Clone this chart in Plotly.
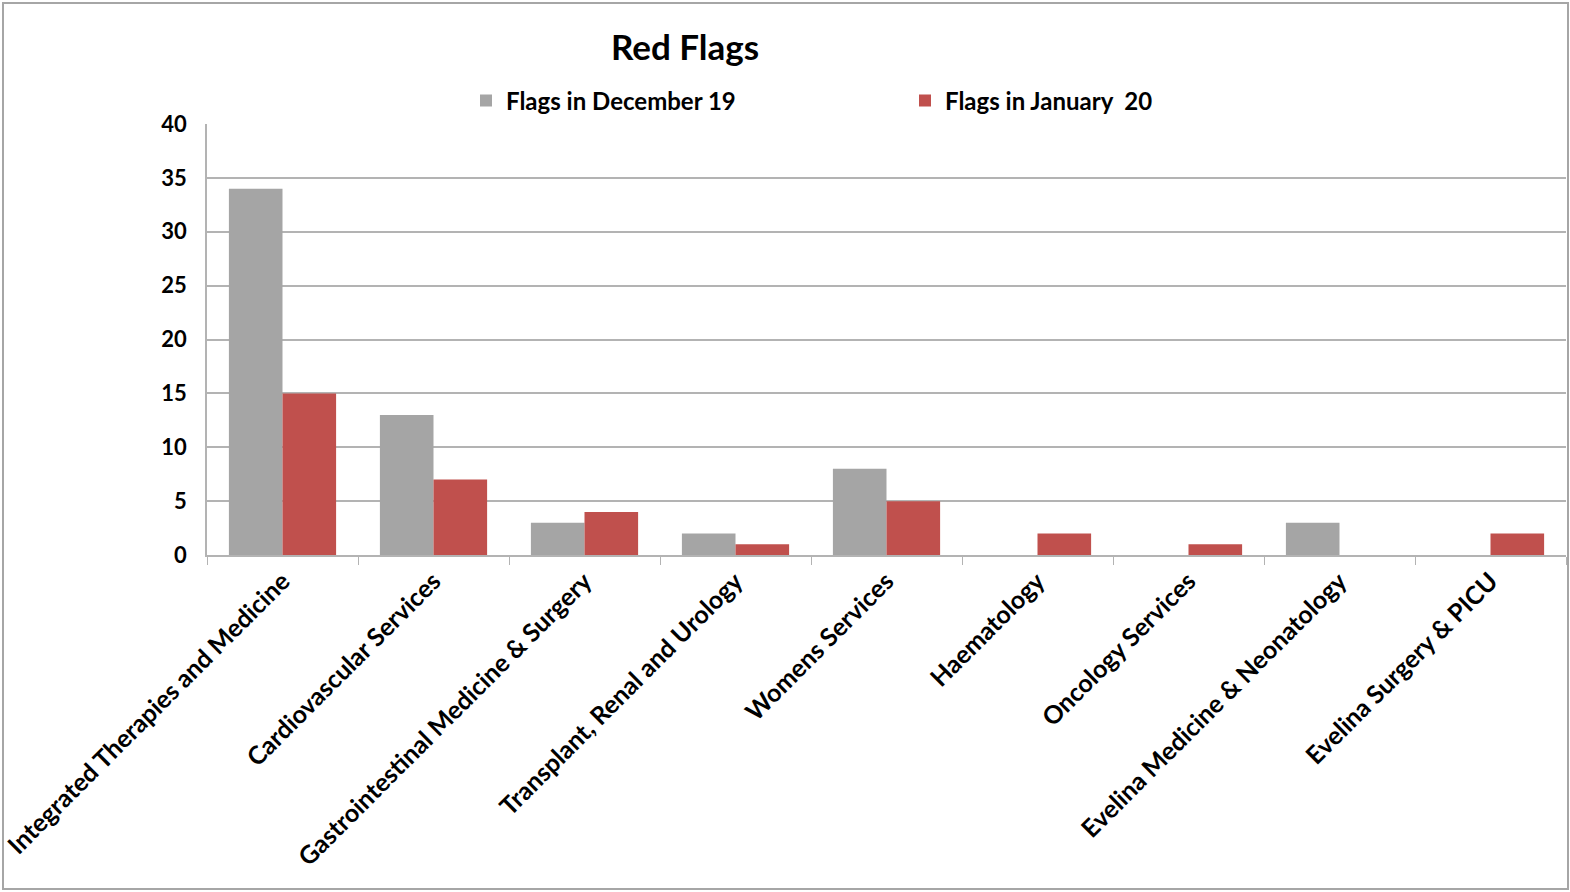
import plotly.graph_objects as go

categories = ["Integrated Therapies and Medicine", "Cardiovascular Services",
              "Gastrointestinal Medicine & Surgery", "Transplant, Renal and Urology",
              "Womens Services", "Haematology", "Oncology Services",
              "Evelina Medicine & Neonatology", "Evelina Surgery & PICU"]
dec19 = [34, 13, 3, 2, 8, 0, 0, 3, 0]
jan20 = [15, 7, 4, 1, 5, 2, 1, 0, 2]
y_ticks = [0, 5, 10, 15, 20, 25, 30, 35, 40]

FONT = "Lato, Liberation Sans, sans-serif"
W, H = 1570, 892
L, R, T, B = 207, 4, 124, 337
pw, ph = W - L - R, H - T - B

fig = go.Figure()
fig.add_bar(x=categories, y=dec19, name="Flags in December 19", marker_color="#A5A5A5",
            marker_line_width=0)
fig.add_bar(x=categories, y=jan20, name="Flags in January  20", marker_color="#C0504D",
            marker_line_width=0)

def px_x(p):
    return (p - L) / pw

def px_y(p):
    return (H - B - p) / ph

fig.update_layout(
    width=W, height=H,
    margin=dict(l=L, r=R, t=T, b=B, autoexpand=False),
    paper_bgcolor="white", plot_bgcolor="white",
    barmode="group", bargap=0.29, bargroupgap=0,
    font=dict(family=FONT, color="black", size=18, weight="bold"),
    title=dict(text="Red Flags", xref="paper", x=px_x(685), xanchor="center",
               yref="container", y=1 - 48 / H, yanchor="middle",
               font=dict(size=35, family=FONT, weight="bold")),
    legend=dict(orientation="h", x=px_x(466), xanchor="left", y=px_y(101), yanchor="middle",
                font=dict(size=24, family=FONT, weight="bold"), entrywidth=394,
                entrywidthmode="pixels", bgcolor="rgba(0,0,0,0)", itemclick=False),
    xaxis=dict(tickangle=-45, showline=True, linecolor="#B3B3B3", linewidth=1.5,
               ticks="outside", tickson="boundaries", ticklen=8, tickcolor="#B3B3B3",
               tickfont=dict(size=25, family=FONT, weight="bold"), showgrid=False,
               automargin=False),
    yaxis=dict(range=[0, 40], tickvals=y_ticks, showline=True, linecolor="#B3B3B3",
               linewidth=1.5, gridcolor="#B3B3B3", gridwidth=1.5,
               tickfont=dict(size=22, family=FONT, weight="bold"), ticklabelstandoff=14,
               tickformat="d", zeroline=False, automargin=False),
    showlegend=True,
)
fig.for_each_trace(lambda t: t.update(hoverinfo="skip"))

# figure border
fig.add_shape(type="rect", xref="paper", yref="paper",
              x0=px_x(3), x1=px_x(1568), y0=px_y(889), y1=px_y(3),
              line=dict(color="#A6A6A6", width=2), fillcolor="rgba(0,0,0,0)", layer="above")

fig.write_html("out.html")
